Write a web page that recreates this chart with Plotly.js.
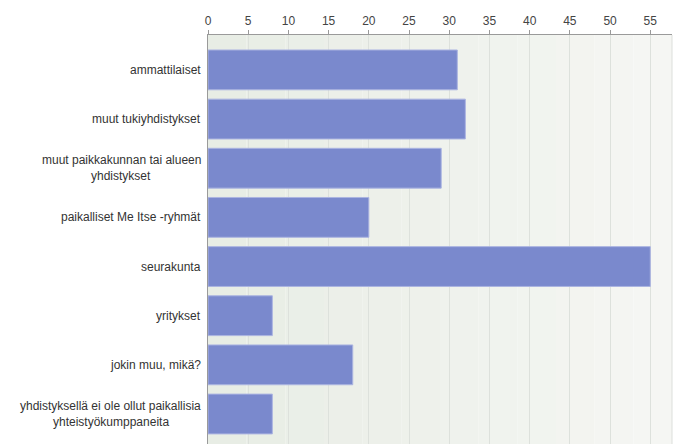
<!DOCTYPE html>
<html>
<head>
<meta charset="utf-8">
<script src="https://cdn.plot.ly/plotly-3.0.1.min.js"></script>
<style>html,body{margin:0;padding:0;background:#fff;}#chart{width:675px;height:444px;}</style>
</head>
<body>
<div id="chart"></div>
<script>
var categories = [
  "ammattilaiset",
  "muut tukiyhdistykset",
  "muut paikkakunnan tai alueen<br>yhdistykset",
  "paikalliset Me Itse -ryhmät",
  "seurakunta",
  "yritykset",
  "jokin muu, mikä?",
  "yhdistyksellä ei ole ollut paikallisia<br>yhteistyökumppaneita"
];
var values = [31, 32, 29, 20, 55, 8, 18, 8];
var tickValues = [0, 5, 10, 15, 20, 25, 30, 35, 40, 45, 50, 55];

var FONT = '"Liberation Sans", Arial, sans-serif';
var idx = categories.map(function(_, i){ return i; });

var trace = {
  type: 'bar',
  orientation: 'h',
  x: values,
  y: idx,
  marker: {color: '#7a89cd', line: {color: '#abb4e1', width: 1}},
  hoverinfo: 'x'
};

// background gradient strips
var shapes = [];
var n = 12;
function lerp(a, b, t){ return Math.round(a + (b - a) * t); }
for (var i = 0; i < n; i++) {
  var t = i / (n - 1);
  var c = 'rgb(' + lerp(232, 245, t) + ',' + lerp(237, 246, t) + ',' + lerp(229, 243, t) + ')';
  shapes.push({type: 'rect', xref: 'paper', yref: 'paper', x0: i / n, x1: (i + 1) / n, y0: 0, y1: 1,
    fillcolor: c, line: {width: 0}, layer: 'below'});
}
shapes.push({type: 'line', xref: 'paper', yref: 'paper', x0: 1, x1: 1, y0: 0, y1: 1,
  line: {color: '#dcdfdb', width: 1}, layer: 'above'});

var ctx = document.createElement('canvas').getContext('2d');
ctx.font = '12px ' + FONT;

// category labels: each line right-anchored, shifted so lines are centred in the block
var annotations = [];
var LINE_H = 15.6;
categories.forEach(function(c, i){
  var lines = c.split('<br>');
  var widths = lines.map(function(l){ return ctx.measureText(l).width; });
  var maxW = Math.max.apply(null, widths);
  lines.forEach(function(l, j){
    annotations.push({xref: 'paper', yref: 'y', x: 0, y: i, text: l, showarrow: false,
      xanchor: 'right', yanchor: 'middle',
      xshift: -(5 + (maxW - widths[j]) / 2),
      yshift: (lines.length - 1) * LINE_H / 2 - j * LINE_H,
      font: {family: FONT, size: 12, color: '#333'}});
  });
});

var layout = {
  width: 675, height: 444,
  margin: {l: 208, r: 3, t: 35, b: 0, pad: 0},
  paper_bgcolor: '#ffffff',
  plot_bgcolor: 'rgba(0,0,0,0)',
  showlegend: false,
  bargap: 0.19,
  shapes: shapes,
  annotations: annotations,
  xaxis: {
    side: 'top', range: [0, 57.7], tickvals: tickValues, ticktext: tickValues.map(String),
    showgrid: true, gridcolor: '#dde1dc', gridwidth: 1, zeroline: false,
    showline: true, linecolor: '#9a9a9a', linewidth: 1,
    ticks: 'outside', ticklen: 4, tickcolor: '#9a9a9a',
    tickfont: {family: FONT, size: 12, color: '#444'},
    fixedrange: true
  },
  yaxis: {
    range: [7.61, -0.71], showticklabels: false, showgrid: false, zeroline: false,
    showline: true, linecolor: '#9a9a9a', linewidth: 1, ticks: '', fixedrange: true
  }
};

Plotly.newPlot('chart', [trace], layout, {displayModeBar: false, staticPlot: true});
</script>
</body>
</html>
